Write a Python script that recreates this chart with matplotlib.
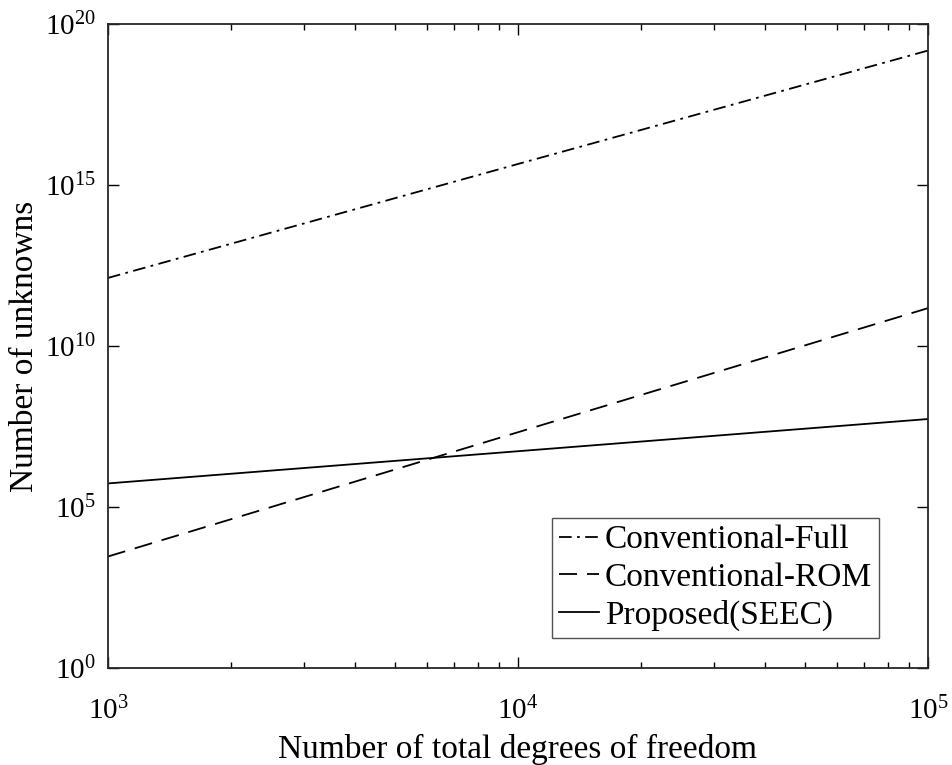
import numpy as np
import matplotlib.pyplot as plt
from matplotlib.ticker import LogLocator, NullLocator, FixedLocator

plt.rcParams['font.family'] = ['Liberation Serif', 'DejaVu Serif']
plt.rcParams['mathtext.fontset'] = 'custom'
plt.rcParams['mathtext.rm'] = 'Liberation Serif'
plt.rcParams['mathtext.it'] = 'Liberation Serif:italic'

# values (log-log straight lines)
dof = [1e3, 1e4, 1e5]
full = [1.3e12, 4.5e15, 1.5e19]
rom = [2.9e3, 2.1e7, 1.5e11]
seec = [5.4e5, 5.4e6, 5.4e7]

fig = plt.figure(figsize=(9.52, 7.65), dpi=100)
ax = fig.add_axes([0.1134, 0.1268, 0.8614, 0.8418])

ax.loglog(dof, full, color='k', lw=1.3, ls=(0, (7, 3, 1.5, 3)), label='Conventional-Full')
ax.loglog(dof, rom, color='k', lw=1.3, ls=(0, (10, 5.5)), label='Conventional-ROM')
ax.loglog(dof, seec, color='k', lw=1.3, ls='-', label='Proposed(SEEC)')

ax.set_xlim(1e3, 1e5)
ax.set_ylim(1e0, 1e20)
ax.yaxis.set_major_locator(FixedLocator([1e0, 1e5, 1e10, 1e15, 1e20]))
ax.yaxis.set_minor_locator(NullLocator())
ax.xaxis.set_minor_locator(LogLocator(base=10, subs=np.arange(2, 10), numticks=20))

ax.tick_params(which='both', direction='in', top=True, right=True, labelsize=21, width=1)
ax.tick_params(which='major', length=8)
ax.tick_params(which='minor', length=4)
ax.tick_params(axis='y', pad=9)
ax.tick_params(axis='x', pad=21)
for s in ax.spines.values():
    s.set_linewidth(1.3)
    s.set_color('#262626')

ax.set_xlabel('Number of total degrees of freedom', fontsize=24)
ax.set_ylabel('Number of unknowns', fontsize=24)
ax.xaxis.set_label_coords(0.5, -0.103)
ax.yaxis.set_label_coords(-0.083, 0.5)

leg = ax.legend(loc='lower right', bbox_to_anchor=(0.940, 0.047), fontsize=24,
                frameon=True, fancybox=False, handlelength=1.2, handletextpad=0.18,
                borderpad=0.2, labelspacing=0.21, borderaxespad=0)
leg.get_frame().set_edgecolor('#262626')
leg.get_frame().set_linewidth(1.0)

plt.savefig('out.png', dpi=100)
